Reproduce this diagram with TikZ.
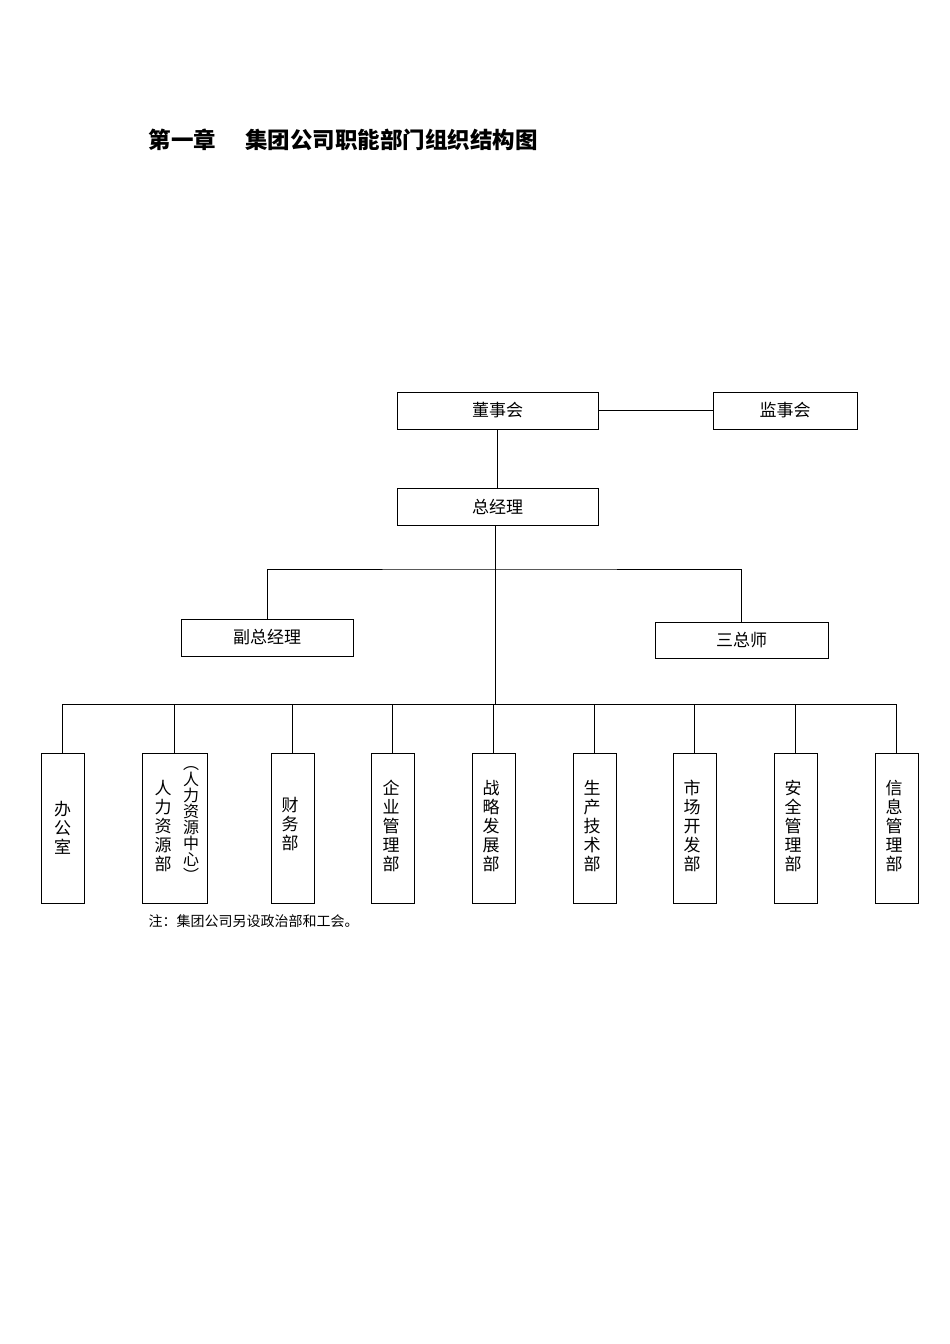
\documentclass[tikz,border=0pt]{standalone}
\usepackage{fontspec}
\setmainfont{Noto Sans CJK SC}
\begin{document}
\begin{tikzpicture}[x=1pt,y=-1pt,
  box/.style={draw,line width=0.8pt,inner sep=0pt,font=\fontsize{17}{20}\selectfont},
  vbox/.style={draw,line width=0.8pt,inner sep=0pt,minimum width=43pt,minimum height=150pt,anchor=north},
  vt/.style={align=center,inner sep=0pt,font=\fontsize{17}{19}\selectfont},
  ln/.style={line width=0.8pt}]
\useasboundingbox (0,0) rectangle (950,1344);
\node[anchor=west,font=\bfseries\fontsize{22.5}{26}\selectfont] (title) at (145,140) {第一章\hspace{1.3em}集团公司职能部门组织结构图};
\node[box,minimum width=201pt,minimum height=37pt] (dsh) at (497.5,410.5) {董事会};
\node[box,minimum width=144pt,minimum height=37pt] (jsh) at (785,410.5) {监事会};
\node[box,minimum width=201pt,minimum height=37pt] (zjl) at (497.5,506.5) {总经理};
\node[box,minimum width=172pt,minimum height=37pt] (fz) at (267,637.5) {副总经理};
\node[box,minimum width=173pt,minimum height=36pt] (szs) at (741.5,640) {三总师};
\draw[ln] (dsh) -- (jsh);
\draw[ln] (dsh.south) -- (zjl.north);
\coordinate (b1) at (495,569);
\coordinate (b2) at (495,704);
\draw[ln] (495,525) -- (b2);
\draw[ln] (fz.north) |- (b1) -| (szs.north);
\node[vbox] (d1) at (62.5,753) {};
\node[vbox,minimum width=65pt] (d2) at (174.5,753) {};
\node[vbox] (d3) at (292.5,753) {};
\node[vbox] (d4) at (392.5,753) {};
\node[vbox] (d5) at (493.5,753) {};
\node[vbox] (d6) at (594.5,753) {};
\node[vbox] (d7) at (694.5,753) {};
\node[vbox] (d8) at (795.5,753) {};
\node[vbox] (d9) at (896.5,753) {};
\foreach \d in {d1,d2,d3,d4,d5,d6,d7,d8,d9}{\draw[ln] (b2) -| (\d.north);}
\node[vt] at (62.5,828) {办\\公\\室};
\node[vt,anchor=north] at (163,780) {人\\力\\资\\源\\部};
\node[vt,anchor=north,font=\fontsize{16}{16}\selectfont] at (191,766) {︵\\人\\力\\资\\源\\中\\心\\︶};
\node[vt,anchor=north] at (290,797) {财\\务\\部};
\node[vt,anchor=north] at (391,780) {企\\业\\管\\理\\部};
\node[vt,anchor=north] at (491,780) {战\\略\\发\\展\\部};
\node[vt,anchor=north] at (592,780) {生\\产\\技\\术\\部};
\node[vt,anchor=north] at (692,780) {市\\场\\开\\发\\部};
\node[vt,anchor=north] at (793,780) {安\\全\\管\\理\\部};
\node[vt,anchor=north] at (894,780) {信\\息\\管\\理\\部};
\node[anchor=west,font=\fontsize{14}{16}\selectfont] (note) at (145,921) {注：集团公司另设政治部和工会。};
\end{tikzpicture}
\end{document}
